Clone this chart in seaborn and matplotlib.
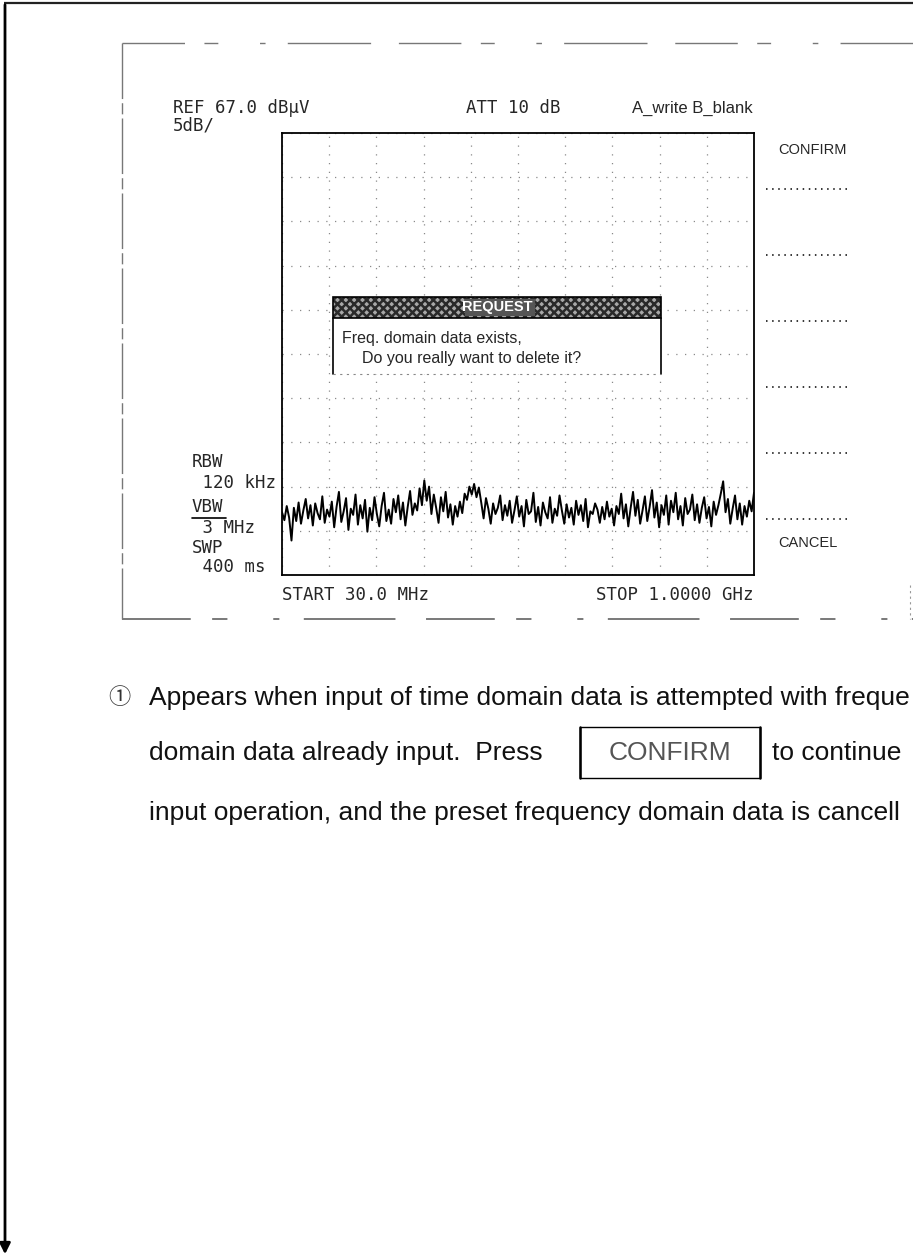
import matplotlib
matplotlib.use("Agg")
import matplotlib.pyplot as plt
import numpy as np
import pandas as pd
import seaborn as sns
from matplotlib.patches import Rectangle

# ---------------- screen data ----------------
REF_LEVEL = 67.0      # dBuV at top graticule line
DB_PER_DIV = 5
N_DIV = 10
START_MHZ = 30.0
STOP_MHZ = 1000.0

HEADER_TEXT = ["REF 67.0 dBµV", "5dB/", "ATT 10 dB", "A_write B_blank"]
SIDE_TEXT = ["RBW", " 120 kHz", "VBW", " 3 MHz", "SWP", " 400 ms"]
FREQ_TEXT = ["START 30.0 MHz", "STOP 1.0000 GHz"]
SOFTKEYS = ["CONFIRM", "CANCEL"]
REQUEST_TITLE = "REQUEST"
REQUEST_LINES = ["Freq. domain data exists,", "Do you really want to delete it?"]
PARA_LINE1 = "Appears when input of time domain data is attempted with freque"
PARA_LINE2 = ["domain data already input.  Press", "CONFIRM", "to continue"]
PARA_LINE3 = "input operation, and the preset frequency domain data is cancell"

# noise floor trace (dBuV), 30 MHz -> 1 GHz
TRACE_DBUV = [
    24.1, 23.2, 24.8, 23.5, 20.9, 24.6, 23.1, 25.2, 22.8, 24.3,
    25.6, 23.4, 24.9, 22.6, 25.1, 24.0, 23.3, 25.9, 22.9, 24.4,
    23.6, 25.3, 22.4, 24.7, 26.4, 23.0, 24.2, 25.7, 22.1, 24.5,
    23.8, 26.1, 22.7, 24.9, 23.4, 25.5, 21.9, 24.6, 23.2, 25.8,
    23.9, 22.5, 24.8, 26.3, 23.1, 24.4, 22.8, 25.6, 24.1, 26.0,
    23.3, 25.2, 22.6, 24.7, 26.5, 23.8, 25.1, 24.3, 26.8, 24.9,
    27.7, 25.4, 27.0, 23.9, 26.1, 24.6, 22.9, 25.8, 24.2, 26.4,
    23.5, 25.0, 22.7, 24.8, 23.6, 25.3, 24.0, 26.2, 25.5, 27.0,
    26.1, 27.3, 25.8, 26.9, 25.2, 23.4, 25.7, 24.5, 22.8, 25.1,
    23.9, 24.6, 26.0, 23.2, 24.9, 23.7, 25.4, 22.9, 24.3, 25.9,
    23.6, 24.8, 22.5, 25.5, 23.9, 24.2, 26.3, 23.0, 24.7, 22.6,
    25.2, 24.1, 23.4, 25.8, 22.9, 24.5, 23.7, 26.0, 24.3, 22.8,
    25.0, 23.5, 24.6, 22.7, 25.4, 23.8, 24.9, 23.1, 25.6, 22.4,
    24.2, 23.9, 25.1, 24.4, 22.9, 24.7, 23.3, 25.3, 23.6, 24.5,
    22.6, 24.8, 23.9, 26.2, 23.4, 25.0, 22.5, 24.6, 26.4, 23.7,
    25.5, 22.8, 24.3, 25.9, 23.1, 24.7, 26.6, 23.5, 25.2, 22.4,
    24.9, 23.8, 26.0, 22.7, 25.4, 24.1, 26.3, 23.3, 24.8, 22.6,
    25.7, 23.9, 24.4, 26.1, 23.2, 25.0, 22.9, 24.6, 25.8, 23.4,
    24.7, 22.5, 25.3, 23.8, 24.9, 26.2, 27.6, 24.1, 25.6, 22.8,
    24.5, 26.0, 23.3, 25.1, 22.7, 24.8, 23.6, 25.4, 24.2, 26.3,
]

# ---------------- layout (pixels of the 913 x 1258 page) ----------------
W, H = 913, 1258
BOX_L, BOX_R, BOX_T, BOX_B = 282, 754, 133, 575      # graticule
FRAME_L, FRAME_T, FRAME_B = 122, 43, 619            # scanned screen frame
SOFT_Y = [189, 255, 321, 387, 453, 519]

sns.set_theme(style="white")
plt.rcParams["font.family"] = ["DejaVu Sans"]
MONO = ["DejaVu Sans Mono"]
SANS = ["Liberation Sans", "DejaVu Sans"]
plt.rcParams["hatch.linewidth"] = 1.8

fig = plt.figure(figsize=(W / 100, H / 100), dpi=100)
fig.patch.set_facecolor("white")

# spectrum graticule
ax = fig.add_axes([BOX_L / W, 1 - BOX_B / H, (BOX_R - BOX_L) / W, (BOX_B - BOX_T) / H])
bottom = REF_LEVEL - DB_PER_DIV * N_DIV
df = pd.DataFrame({
    "freq_mhz": np.linspace(START_MHZ, STOP_MHZ, len(TRACE_DBUV)),
    "level": TRACE_DBUV,
})
sns.lineplot(data=df, x="freq_mhz", y="level", ax=ax, color="black",
             linewidth=1.4, estimator=None)
ax.set_xlim(START_MHZ, STOP_MHZ)
ax.set_ylim(bottom, REF_LEVEL)
ax.set_xticks(np.linspace(START_MHZ, STOP_MHZ, N_DIV + 1))
ax.set_yticks(np.linspace(bottom, REF_LEVEL, N_DIV + 1))
ax.grid(True, color="#8a8a8a", linestyle=(0, (1, 6)), linewidth=0.9)
ax.tick_params(length=0, labelbottom=False, labelleft=False)
ax.set_xlabel("")
ax.set_ylabel("")
for sp in ax.spines.values():
    sp.set_color("black")
    sp.set_linewidth(1.3)

# overlay in page pixels
ov = fig.add_axes([0, 0, 1, 1])
ov.set_xlim(0, W)
ov.set_ylim(H, 0)
ov.axis("off")
ov.patch.set_alpha(0)

# page rules and arrow
ov.plot([4, W], [3, 3], color="#222222", lw=1.6, solid_capstyle="butt")
ov.annotate("", xy=(5, 1257), xytext=(5, 2),
            arrowprops=dict(arrowstyle="-|>", lw=2.0, color="black", mutation_scale=16))

# scanned screen frame (dashed, broken)
frame_ls = (0, (45, 14, 10, 30, 4, 16, 60, 20))
ov.plot([FRAME_L, W], [FRAME_T, FRAME_T], color="#777777", lw=1.0, linestyle=frame_ls)
ov.plot([FRAME_L, W], [FRAME_B, FRAME_B], color="#555555", lw=1.1, linestyle=frame_ls)
ov.plot([FRAME_L, FRAME_L], [FRAME_T, FRAME_B], color="#777777", lw=1.0,
        linestyle=(0, (40, 3, 8, 3)))
ov.plot([910, 910], [585, FRAME_B], color="#999999", lw=0.8, linestyle=(0, (2, 3)))

# header readout
ov.text(173, 108, HEADER_TEXT[0], family=MONO, fontsize=12.5, va="center")
ov.text(173, 126, HEADER_TEXT[1], family=MONO, fontsize=12.5, va="center")
ov.text(466, 108, HEADER_TEXT[2], family=MONO, fontsize=12.5, va="center")
ov.text(632, 108, HEADER_TEXT[3], family=SANS, fontsize=12, va="center")

# side readout
side_y = [462, 483, 507, 528, 548, 567]
for txt, yy in zip(SIDE_TEXT, side_y):
    ov.text(192, yy, txt, family=MONO, fontsize=12.5, va="center")
ov.plot([192, 226], [518, 518], color="black", lw=1.2)

ov.text(BOX_L, 595, FREQ_TEXT[0], family=MONO, fontsize=12.5, va="center", ha="left")
ov.text(BOX_R, 595, FREQ_TEXT[1], family=MONO, fontsize=12.5, va="center", ha="right")

# soft keys
for yy in SOFT_Y:
    ov.plot([766, 850], [yy, yy], color="black", lw=1.1, linestyle=(0, (1, 3)))
ov.text(778, 150, SOFTKEYS[0], family=SANS, fontsize=10.5, va="center")
ov.text(778, 543, SOFTKEYS[1], family=SANS, fontsize=10.5, va="center")

# request dialog
DL, DR, DT, DH, DB = 333, 661, 297, 318, 374
ov.add_patch(Rectangle((DL, DH), DR - DL, DB - DH, facecolor="white",
                       edgecolor="none", zorder=3))
ov.add_patch(Rectangle((DL, DT), DR - DL, DH - DT, facecolor="#a8a8a8",
                       edgecolor="#2a2a2a", hatch="xxxx", linewidth=0, zorder=4))
ov.add_patch(Rectangle((DL, DT), DR - DL, DH - DT, facecolor="none",
                       edgecolor="black", linewidth=1.2, zorder=5))
ov.plot([DL, DL], [DH, DB], color="black", lw=1.2, zorder=5)
ov.plot([DR, DR], [DH, DB], color="black", lw=1.2, zorder=5)
ov.plot([DL, DR], [DB, DB], color="#888888", lw=0.8, linestyle=(0, (2, 4)), zorder=5)
ov.add_patch(Rectangle((465, DT + 2), 70, DH - DT - 4, facecolor="#555555",
                       edgecolor="none", zorder=5))
ov.text((DL + DR) / 2, (DT + DH) / 2, REQUEST_TITLE, family=SANS, fontsize=10.5,
        color="white", fontweight="bold", ha="center", va="center", zorder=6)
ov.text(342, 339, REQUEST_LINES[0], family=SANS, fontsize=11.5, va="center", zorder=6)
ov.text(362, 359, REQUEST_LINES[1], family=SANS, fontsize=11.5, va="center", zorder=6)

# explanatory paragraph
PARA_X = 149
ov.text(119, 698, "①", family=["Noto Sans CJK JP", "DejaVu Sans"], fontsize=16,
        va="center", ha="center", color="#333333")
ov.text(PARA_X, 698, PARA_LINE1, family=SANS, fontsize=19, va="center", color="#111111")
ov.text(PARA_X, 753, PARA_LINE2[0], family=SANS, fontsize=19, va="center", color="#111111")
ov.add_patch(Rectangle((580, 727), 180, 51, facecolor="none", edgecolor="black", lw=1.0))
ov.plot([580, 580], [727, 778], color="black", lw=1.8)
ov.plot([760, 760], [727, 778], color="black", lw=1.8)
ov.text(670, 753, PARA_LINE2[1], family=SANS, fontsize=19, va="center", ha="center",
        color="#555555")
ov.text(772, 753, PARA_LINE2[2], family=SANS, fontsize=19, va="center", color="#111111")
ov.text(PARA_X, 813, PARA_LINE3, family=SANS, fontsize=19, va="center", color="#111111")

fig.savefig("out.png", dpi=100)
